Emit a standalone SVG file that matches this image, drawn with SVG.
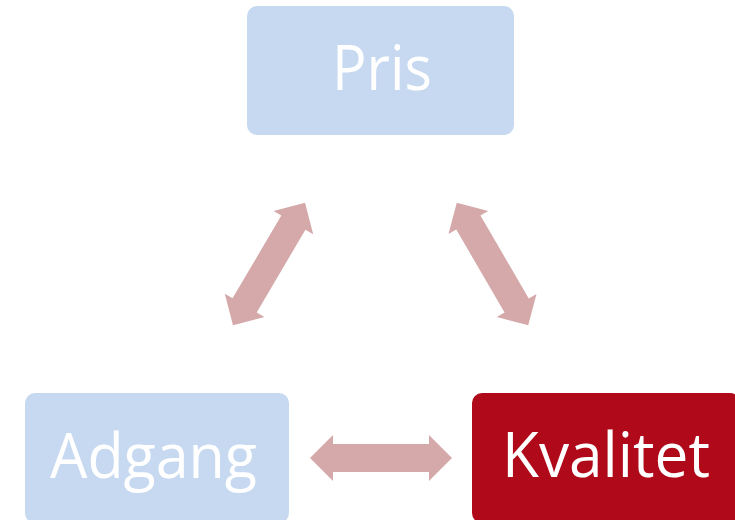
<svg xmlns="http://www.w3.org/2000/svg" xmlns:xlink="http://www.w3.org/1999/xlink" width="735" height="520" viewBox="0 0 735 520">
<style>
.light{fill:#C6D9F1;}
.dark{fill:#B00A1A;}
.lbl{fill:#FFFFFF;font-family:"Open Sans","Noto Sans",sans-serif;font-size:63px;text-anchor:middle;}
.arr{fill:#D5A9A9;}
</style>
<defs>
<path id="dbl" d="M-71,0 L-48,-23 L-48,-14 L48,-14 L48,-23 L71,0 L48,23 L48,14 L-48,14 L-48,23 Z"/>
</defs>
<rect width="735" height="520" fill="#FFFFFF"/>
<g id="connectors" class="arr">
<use xlink:href="#dbl" transform="translate(269,264) rotate(-59.5)"/>
<use xlink:href="#dbl" transform="translate(492.5,264) rotate(59.8)"/>
<use xlink:href="#dbl" transform="translate(381,458)"/>
</g>
<g id="pris">
<rect class="light" x="247" y="6" width="267" height="129" rx="10"/>
<text class="lbl" x="382" y="90" textLength="100" lengthAdjust="spacingAndGlyphs">Pris</text>
</g>
<g id="adgang">
<rect class="light" x="25" y="393" width="264" height="130" rx="10"/>
<text class="lbl" x="153.5" y="478" textLength="207" lengthAdjust="spacingAndGlyphs">Adgang</text>
</g>
<g id="kvalitet">
<rect class="dark" x="472" y="393" width="268" height="130" rx="10"/>
<text class="lbl" x="606" y="477" textLength="208" lengthAdjust="spacingAndGlyphs">Kvalitet</text>
</g>
</svg>
